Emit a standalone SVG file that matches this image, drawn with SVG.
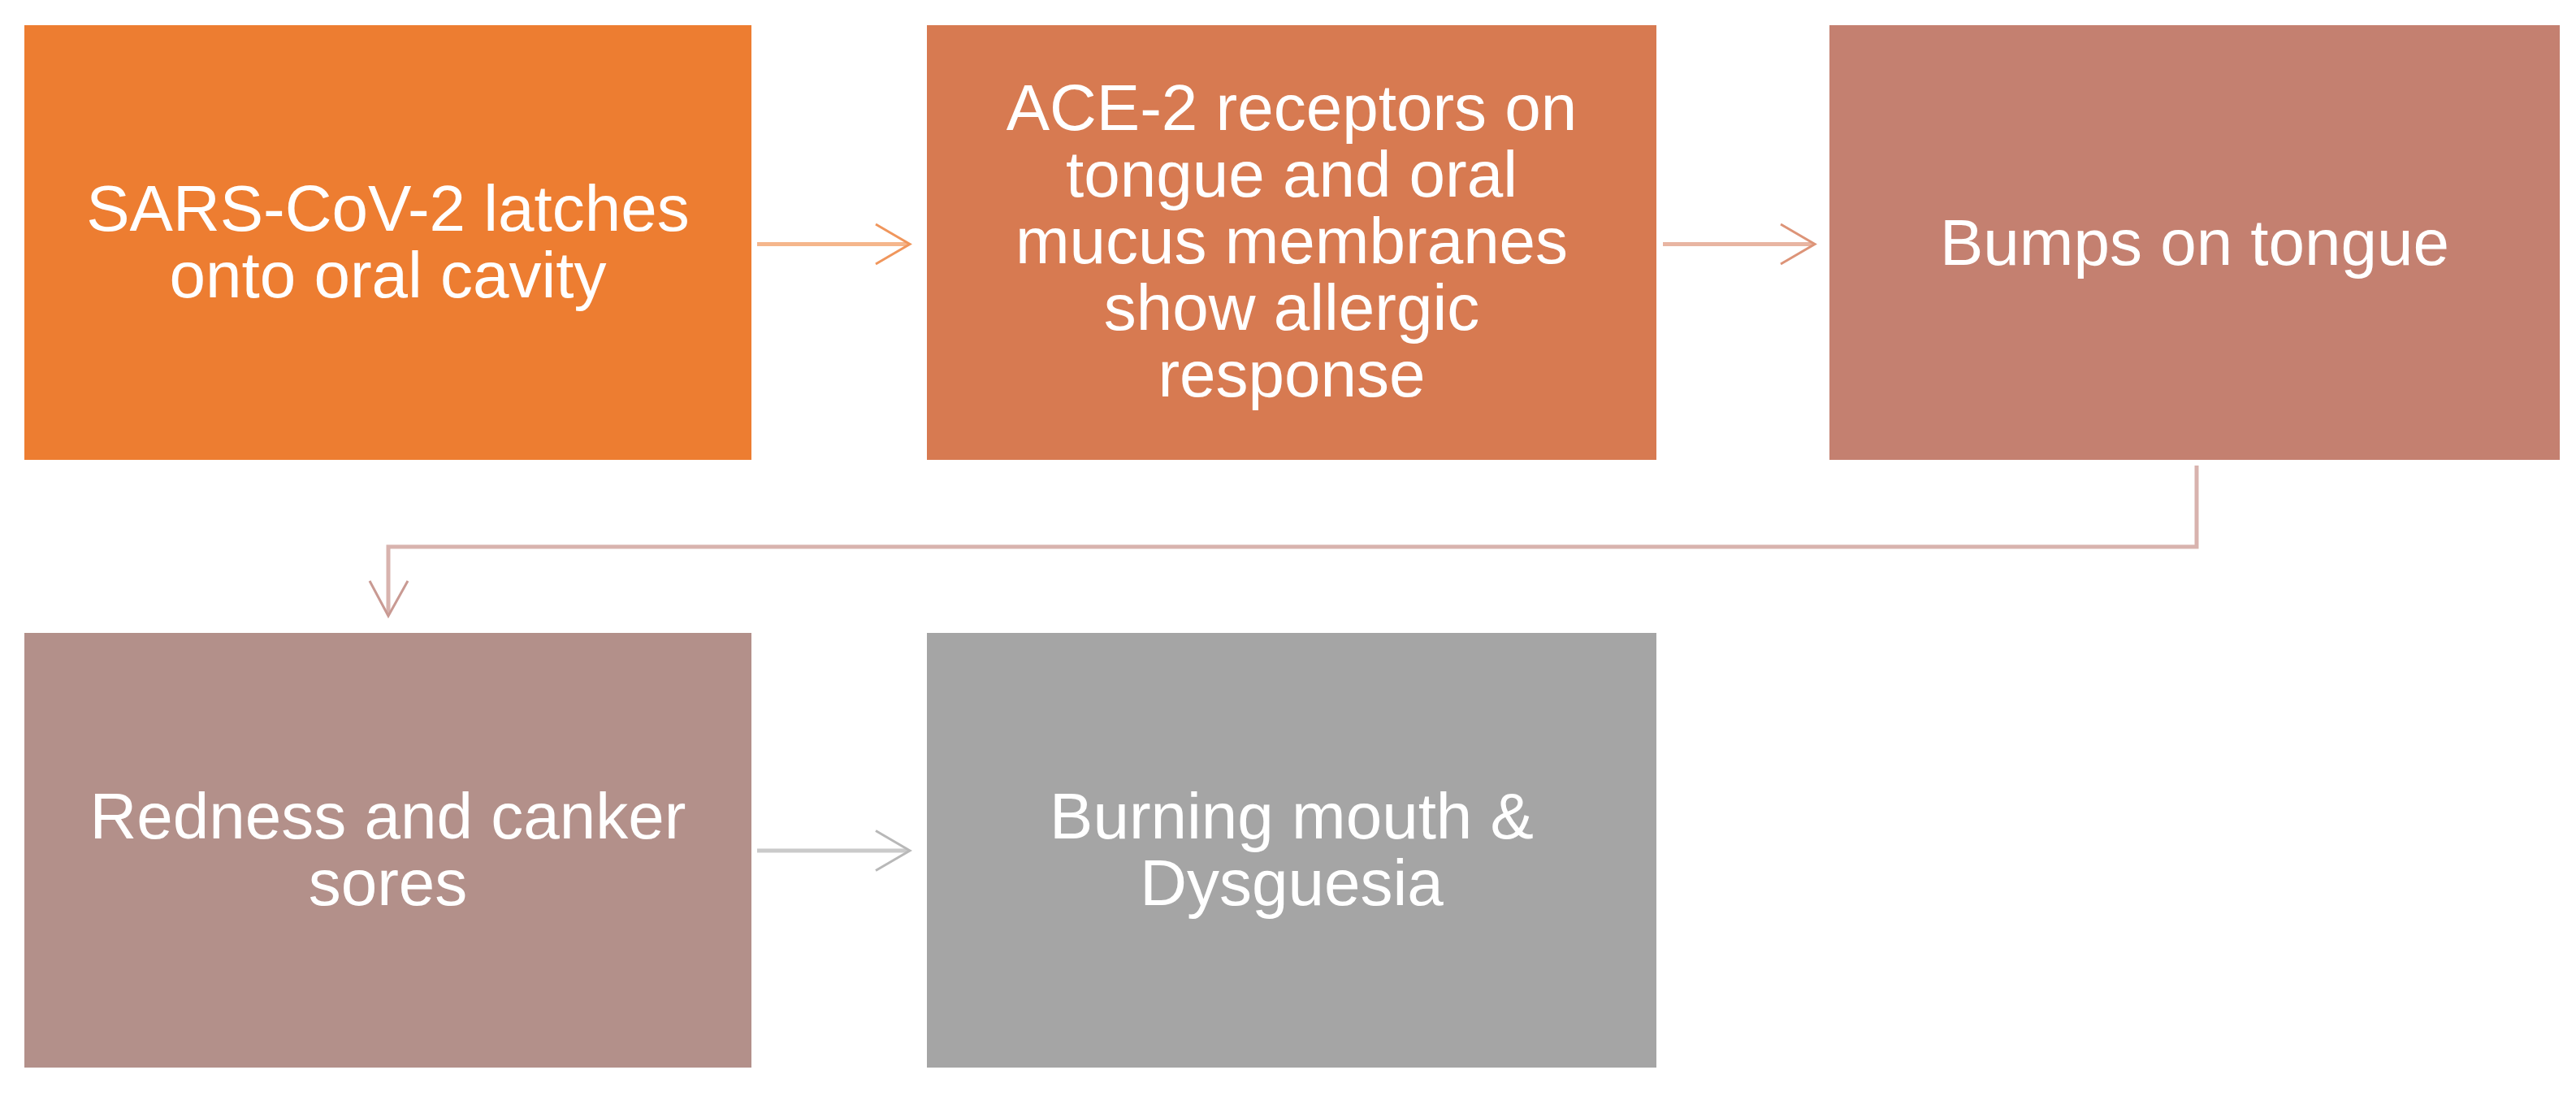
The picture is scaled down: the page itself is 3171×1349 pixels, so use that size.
<svg xmlns="http://www.w3.org/2000/svg" width="3171" height="1349" viewBox="0 0 3171 1349">
<style>
.lbl{font-family:"Liberation Sans",Arial,sans-serif;font-size:80px;fill:#FFFFFF;text-anchor:middle}
.ln{fill:none;stroke-width:5}
.hd{fill:none;stroke-width:3;stroke-linejoin:miter;stroke-linecap:butt}
</style>
<rect width="3171" height="1349" fill="#FFFFFF"/>
<g id="connectors">
<g id="c1">
<line class="ln" stroke="#F5B68C" x1="932" y1="300.5" x2="1118" y2="300.5"/>
<polyline class="hd" stroke="#F0965C" points="1078,276 1120,300.5 1078,325"/>
</g>
<g id="c2">
<line class="ln" stroke="#E8B5A2" x1="2047" y1="300.5" x2="2232" y2="300.5"/>
<polyline class="hd" stroke="#DD9478" points="2192,276 2234,300.5 2192,325"/>
</g>
<g id="c3">
<polyline class="ln" stroke="#D8B3AE" points="2704,573 2704,673 478,673 478,756"/>
<polyline class="hd" stroke="#C99A93" points="455,715 478,758 502,715"/>
</g>
<g id="c4">
<line class="ln" stroke="#CACACA" x1="932" y1="1047" x2="1118" y2="1047"/>
<polyline class="hd" stroke="#B8B8B8" points="1078,1022.5 1120,1047 1078,1071.5"/>
</g>
</g>
<g id="n1">
<rect x="30" y="31" width="895" height="535" fill="#ED7D31"/>
<text class="lbl" x="477.5" y="284">SARS-CoV-2 latches</text>
<text class="lbl" x="477.5" y="366">onto oral cavity</text>
</g>
<g id="n2">
<rect x="1141" y="31" width="898" height="535" fill="#D77A51"/>
<text class="lbl" x="1590" y="160">ACE-2 receptors on</text>
<text class="lbl" x="1590" y="242">tongue and oral</text>
<text class="lbl" x="1590" y="324">mucus membranes</text>
<text class="lbl" x="1590" y="406">show allergic</text>
<text class="lbl" x="1590" y="488">response</text>
</g>
<g id="n3">
<rect x="2252" y="31" width="899" height="535" fill="#C48070"/>
<text class="lbl" x="2701.5" y="326">Bumps on tongue</text>
</g>
<g id="n4">
<rect x="30" y="779" width="895" height="535" fill="#B3908A"/>
<text class="lbl" x="477.5" y="1032">Redness and canker</text>
<text class="lbl" x="477.5" y="1114">sores</text>
</g>
<g id="n5">
<rect x="1141" y="779" width="898" height="535" fill="#A5A5A5"/>
<text class="lbl" x="1590" y="1032">Burning mouth &amp;</text>
<text class="lbl" x="1590" y="1114">Dysguesia</text>
</g>
</svg>
